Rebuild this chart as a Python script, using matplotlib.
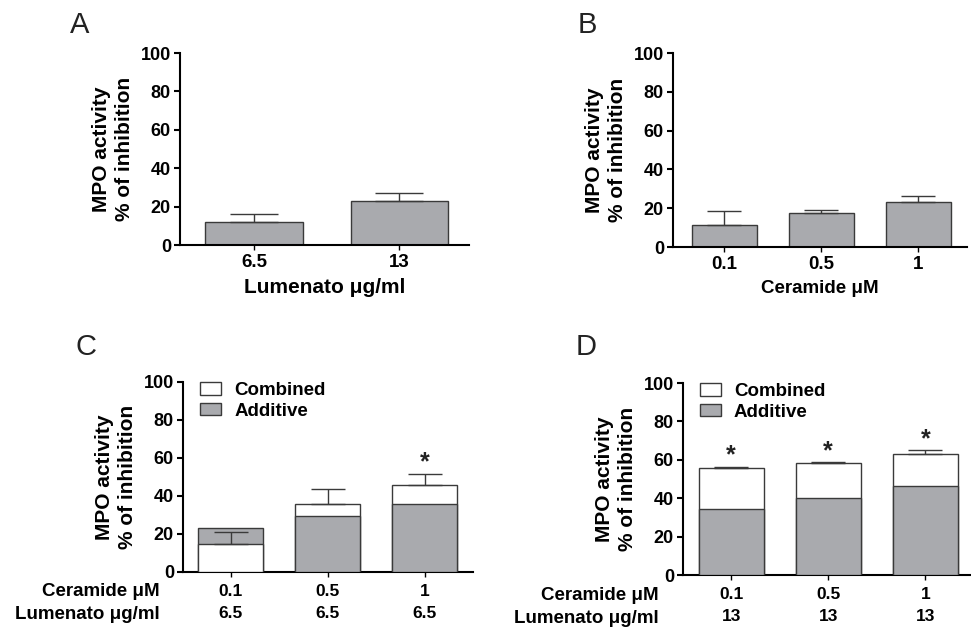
# MPO activity inhibition panels (A-D)
import numpy as np
import matplotlib.pyplot as plt

plt.rcParams['font.family'] = ['Liberation Sans', 'DejaVu Sans']
plt.rcParams['font.weight'] = 'bold'

# --- data ---
lum_doses = ['6.5', '13']
a_mean = [11.8, 22.8]
a_err = [4.5, 4.2]

cer_doses = ['0.1', '0.5', '1']
b_mean = [11.3, 17.3, 23.4]
b_err = [7.3, 2.0, 2.9]

c_lum = ['6.5', '6.5', '6.5']
c_combined = [14.7, 35.9, 45.9]
c_additive = [23.2, 29.5, 35.6]
c_err = [6.2, 7.9, 5.6]
c_sig = [False, False, True]

d_lum = ['13', '13', '13']
d_combined = [55.5, 58.3, 63.0]
d_additive = [34.3, 40.2, 46.4]
d_err = [0.8, 0.3, 1.9]
d_sig = [True, True, True]

W, H = 971, 628
GRAY = '#a9aaae'
EDGE = '#3a3a3a'
ylab = 'MPO activity\n% of inhibition'


def px_axes(fig, left, right, top, bottom):
    return fig.add_axes([left / W, 1 - bottom / H, (right - left) / W, (bottom - top) / H])


def style(ax, xlim):
    ax.set_xlim(*xlim)
    ax.set_ylim(0, 100)
    ax.set_yticks([0, 20, 40, 60, 80, 100])
    for s in ['top', 'right']:
        ax.spines[s].set_visible(False)
    for s in ['left', 'bottom']:
        ax.spines[s].set_linewidth(1.5)
    ax.tick_params(axis='y', length=4.5, width=1.5, labelsize=13, pad=2)
    ax.tick_params(axis='x', length=3.5, width=1.0, labelsize=13.5, pad=3)
    ax.set_ylabel(ylab, fontsize=15, fontweight='bold', labelpad=5, linespacing=1.25)


def simple_bars(ax, labels, mean, err, capsize):
    x = np.arange(len(labels))
    ax.bar(x, mean, width=0.67, color=GRAY, edgecolor=EDGE, linewidth=1.0, zorder=2)
    ax.errorbar(x, mean, yerr=[np.zeros(len(x)), err], fmt='none', ecolor=EDGE,
                elinewidth=1.0, capsize=capsize, capthick=1.0, zorder=3)
    ax.set_xticks(x)
    ax.set_xticklabels(labels)


def combo_bars(ax, combined, additive, err, sig, lum, row_x):
    x = np.arange(len(combined))
    for i in x:
        # the taller bar sits behind the shorter one
        z_c = 2 if combined[i] >= additive[i] else 3
        z_a = 5 - z_c
        ax.bar(x[i], combined[i], width=0.67, color='white', edgecolor=EDGE,
               linewidth=1.0, zorder=z_c, label='Combined' if i == 0 else None)
        ax.bar(x[i], additive[i], width=0.67, color=GRAY, edgecolor=EDGE,
               linewidth=1.0, zorder=z_a, label='Additive' if i == 0 else None)
    ax.errorbar(x, combined, yerr=[np.zeros(len(x)), err], fmt='none', ecolor=EDGE,
                elinewidth=1.0, capsize=12, capthick=1.0, zorder=4)
    for i in x:
        if sig[i]:
            ax.text(x[i], combined[i] + err[i] + 6, '*', ha='center', va='center',
                    fontsize=18, color='#222222')
    ax.set_xticks(x)
    ax.set_xticklabels([])
    for i in x:
        ax.annotate(cer_doses[i], xy=(x[i], 0), xycoords=('data', 'axes fraction'),
                    xytext=(0, -14), textcoords='offset points', ha='center',
                    va='center', fontsize=12.5)
        ax.annotate(lum[i], xy=(x[i], 0), xycoords=('data', 'axes fraction'),
                    xytext=(0, -30), textcoords='offset points', ha='center',
                    va='center', fontsize=12.5)
    ax.text(row_x, -0.105, 'Ceramide \u03bcM', transform=ax.transAxes, ha='right',
            va='center', fontsize=13.5)
    ax.text(row_x, -0.225, 'Lumenato \u03bcg/ml', transform=ax.transAxes, ha='right',
            va='center', fontsize=13.5)
    ax.legend(loc='upper left', bbox_to_anchor=(0.06, 1.0), frameon=False,
              fontsize=13.5, handlelength=1.1, handleheight=0.66, handletextpad=0.7,
              labelspacing=0.2, borderpad=0, borderaxespad=0)


fig = plt.figure(figsize=(W / 100, H / 100), dpi=100)

axA = px_axes(fig, 180, 469, 53, 245)
simple_bars(axA, lum_doses, a_mean, a_err, capsize=17)
style(axA, (-0.51, 1.48))
axA.set_xlabel('Lumenato \u03bcg/ml', fontsize=15, fontweight='bold', labelpad=5)

axB = px_axes(fig, 673, 967, 53, 247)
simple_bars(axB, cer_doses, b_mean, b_err, capsize=12)
style(axB, (-0.53, 2.5))
axB.set_xlabel('Ceramide \u03bcM', fontsize=13.5, fontweight='bold', labelpad=5)

axC = px_axes(fig, 183, 473, 382, 572)
style(axC, (-0.495, 2.5))
combo_bars(axC, c_combined, c_additive, c_err, c_sig, c_lum, -0.08)

axD = px_axes(fig, 683, 971, 383, 575)
style(axD, (-0.495, 2.47))
combo_bars(axD, d_combined, d_additive, d_err, d_sig, d_lum, -0.085)

for lab, px, py in [('A', 70, 33), ('B', 578, 33), ('C', 75, 355), ('D', 576, 355)]:
    fig.text(px / W, 1 - py / H, lab, fontsize=21, fontweight='normal',
             color='#222222', va='baseline', ha='left')

fig.savefig('out.png', dpi=100)
